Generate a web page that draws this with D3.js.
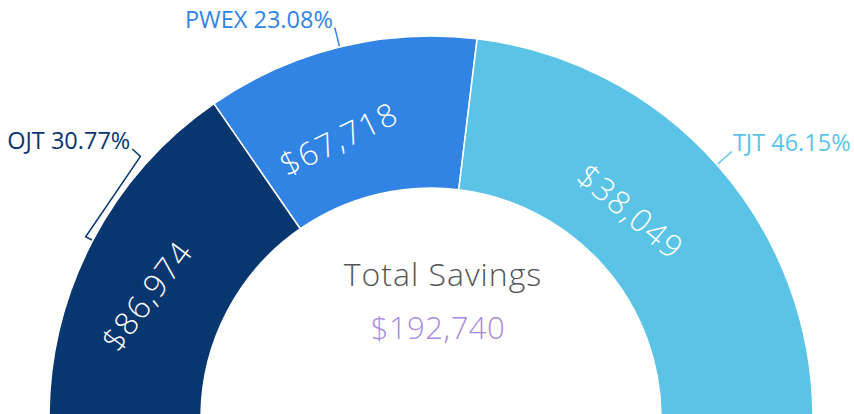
<!DOCTYPE html>
<html>
<head>
<meta charset="utf-8">
<script src="https://cdn.jsdelivr.net/npm/d3@7"></script>
<style>
  body { margin: 0; background: #fff; }
  svg { display: block; }
  .callout { font-family: "Open Sans", sans-serif; font-size: 23.5px; }
  .sliceLabel { font-family: "Open Sans", sans-serif; font-weight: 300; font-size: 32px; letter-spacing: 1.5px; fill: #fff; }
  .centre { font-family: "Open Sans", sans-serif; font-weight: 300; }
</style>
</head>
<body>
<svg id="chart" width="854" height="414"></svg>
<script>
// chart data
var programs = ["OJT", "PWEX", "TJT"];
var shares = [30.77, 23.08, 46.15];
var savings = [86974, 67718, 38049];
var totalSavings = 192740;
var colors = ["#08366f", "#3184e3", "#5bc4e6"];

// layout of the slice labels (degrees / px)
var labelTilt = [-53, -26, 40];
var labelRadius = [309, 294, 287];
// OJT callout was pushed up along the rim
var calloutAngle = [-48, null, null];

var width = 854,
    height = 414,
    cx = 431,
    cy = 418,
    outerR = 382,
    innerR = 230;

var toRad = Math.PI / 180;

function drawChart() {

    var svg = d3.select("#chart");
    var g = svg.append("g")
        .attr("transform", "translate(" + cx + "," + cy + ")");

    var rows = programs.map(function (p, i) {
        return { name: p, share: shares[i], saving: savings[i], color: colors[i], i: i };
    });

    // half donut, left to right
    var pie = d3.pie()
        .sort(null)
        .value(function (d) { return d.share; })
        .startAngle(-Math.PI / 2)
        .endAngle(Math.PI / 2);

    var arc = d3.arc()
        .innerRadius(innerR)
        .outerRadius(outerR);

    var arcs = pie(rows);

    g.selectAll("path.slice")
        .data(arcs)
        .enter()
        .append("path")
        .attr("class", "slice")
        .attr("d", arc)
        .attr("fill", function (d) { return d.data.color; })
        .attr("stroke", "#fff")
        .attr("stroke-width", 1.5);

    // point at angle a (radians from 12 o'clock) and radius r
    function polar(a, r) {
        return [Math.sin(a) * r, -Math.cos(a) * r];
    }

    // values inside the slices
    g.selectAll("text.sliceLabel")
        .data(arcs)
        .enter()
        .append("text")
        .attr("class", "sliceLabel")
        .attr("text-anchor", "middle")
        .attr("dy", "0.36em")
        .attr("transform", function (d) {
            var mid = (d.startAngle + d.endAngle) / 2 - 4.4 * toRad;
            var p = polar(mid, labelRadius[d.data.i]);
            return "translate(" + p[0] + "," + p[1] + ") rotate(" + labelTilt[d.data.i] + ")";
        })
        .text(function (d) { return d3.format("$,")(d.data.saving); });

    // callouts with leader lines
    var callouts = g.selectAll("g.callout")
        .data(arcs)
        .enter()
        .append("g")
        .attr("class", "callout");

    callouts.append("path")
        .attr("fill", "none")
        .attr("stroke", function (d) { return d.data.color; })
        .attr("stroke-width", 1.5)
        .attr("d", function (d) {
            var mid = (d.startAngle + d.endAngle) / 2;
            var a = calloutAngle[d.data.i];
            var p0 = polar(mid, outerR + 1);
            if (a === null) {
                var p1 = polar(mid, outerR + 20);
                return "M" + p0 + "L" + p1;
            }
            var pa = polar(mid, outerR + 8),
                pb = polar(a * toRad, outerR + 9),
                pc = polar(a * toRad, outerR + 20);
            return "M" + p0 + "L" + pa + "L" + pb + "L" + pc;
        });

    callouts.append("text")
        .attr("fill", function (d) { return d.data.color; })
        .attr("text-anchor", function (d) {
            var mid = (d.startAngle + d.endAngle) / 2;
            return mid < 0 ? "end" : "start";
        })
        .attr("x", function (d) {
            var mid = (d.startAngle + d.endAngle) / 2;
            var a = calloutAngle[d.data.i] === null ? mid : calloutAngle[d.data.i] * toRad;
            return polar(a, outerR + 20)[0] + (mid < 0 ? -2 : 1);
        })
        .attr("y", function (d) {
            var mid = (d.startAngle + d.endAngle) / 2;
            var a = calloutAngle[d.data.i] === null ? mid : calloutAngle[d.data.i] * toRad;
            return polar(a, outerR + 20)[1];
        })
        .text(function (d) { return d.data.name + " " + d.data.share.toFixed(2) + "%"; });

    // centre text
    g.append("text")
        .attr("class", "centre")
        .attr("x", 12)
        .attr("y", -132)
        .attr("text-anchor", "middle")
        .style("font-size", "32px")
        .style("letter-spacing", "1px")
        .attr("fill", "#555")
        .text("Total Savings");

    g.append("text")
        .attr("class", "centre")
        .attr("x", 7)
        .attr("y", -79)
        .attr("text-anchor", "middle")
        .style("font-size", "31px")
        .style("letter-spacing", "0.5px")
        .attr("fill", "#a68be0")
        .text(d3.format("$,")(totalSavings));
}

drawChart();
</script>
</body>
</html>
